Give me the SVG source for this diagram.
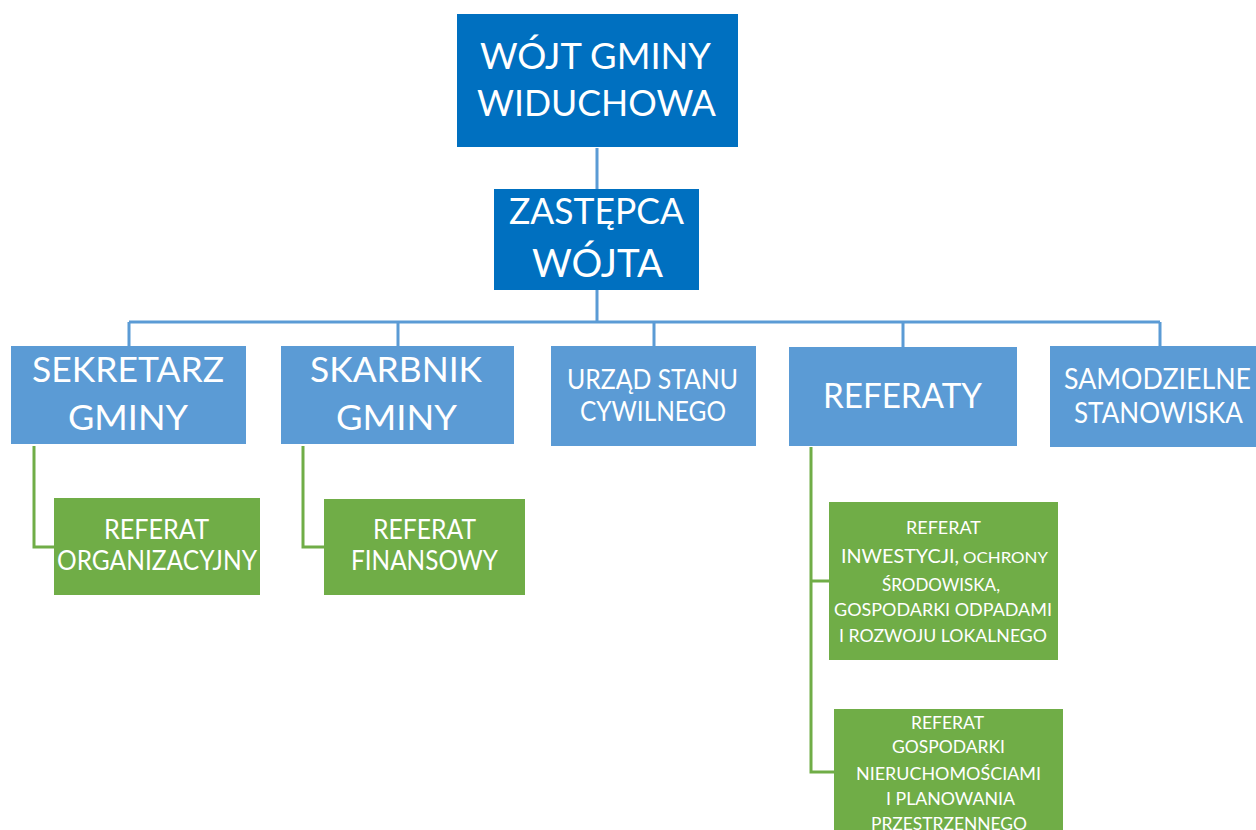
<svg xmlns="http://www.w3.org/2000/svg" width="1256" height="830" viewBox="0 0 1256 830">
<style>
text{font-family:Lato,"Open Sans","Liberation Sans",sans-serif;fill:#fff;text-anchor:middle}
.dk{fill:#0070C0}
.lb{fill:#5B9BD5}
.gr{fill:#70AD47}
.cb{stroke:#5B9BD5;stroke-width:3;fill:none}
.cg{stroke:#70AD47;stroke-width:3;fill:none}
</style>
<rect width="1256" height="830" fill="#fff"/>
<g id="connectors">
<path class="cb" d="M597 148V190M597 290V322M129 322H1160M129 322V346M398 322V346M654 322V346M903 322V347M1160 322V346"/>
<path class="cg" d="M34 446V547H54M303 446V547H324M811 447V772H834M811 581H829"/>
</g>
<g id="wojt">
<rect class="dk" x="457" y="14" width="281" height="133"/>
<text x="595.5" y="69" font-size="36" textLength="231" lengthAdjust="spacingAndGlyphs">WÓJT GMINY</text>
<text x="596.5" y="116" font-size="36" textLength="239" lengthAdjust="spacingAndGlyphs">WIDUCHOWA</text>
</g>
<g id="zastepca">
<rect class="dk" x="494" y="189" width="205" height="101"/>
<text x="596.5" y="224" font-size="36" textLength="175" lengthAdjust="spacingAndGlyphs">ZASTĘPCA</text>
<text x="597.5" y="277" font-size="38" textLength="131" lengthAdjust="spacingAndGlyphs">WÓJTA</text>
</g>
<g id="sekretarz">
<rect class="lb" x="11" y="346" width="235" height="98"/>
<text x="128" y="382" font-size="35" textLength="192" lengthAdjust="spacingAndGlyphs">SEKRETARZ</text>
<text x="128" y="430" font-size="35" textLength="120" lengthAdjust="spacingAndGlyphs">GMINY</text>
</g>
<g id="skarbnik">
<rect class="lb" x="281" y="346" width="233" height="98"/>
<text x="396" y="382" font-size="35" textLength="172" lengthAdjust="spacingAndGlyphs">SKARBNIK</text>
<text x="396.5" y="430" font-size="35" textLength="121" lengthAdjust="spacingAndGlyphs">GMINY</text>
</g>
<g id="usc">
<rect class="lb" x="551" y="346" width="205" height="100"/>
<text x="652.5" y="389" font-size="26" textLength="171" lengthAdjust="spacingAndGlyphs">URZĄD STANU</text>
<text x="653" y="421" font-size="26" textLength="146" lengthAdjust="spacingAndGlyphs">CYWILNEGO</text>
</g>
<g id="referaty">
<rect class="lb" x="789" y="347" width="228" height="99"/>
<text x="902.5" y="408" font-size="35" textLength="159" lengthAdjust="spacingAndGlyphs">REFERATY</text>
</g>
<g id="samodzielne">
<rect class="lb" x="1050" y="346" width="210" height="101"/>
<text x="1157.5" y="389" font-size="28" textLength="187" lengthAdjust="spacingAndGlyphs">SAMODZIELNE</text>
<text x="1158.5" y="423" font-size="28" textLength="169" lengthAdjust="spacingAndGlyphs">STANOWISKA</text>
</g>
<g id="ref-org">
<rect class="gr" x="54" y="498" width="206" height="97"/>
<text x="156.5" y="539" font-size="26" textLength="105" lengthAdjust="spacingAndGlyphs">REFERAT</text>
<text x="157" y="570" font-size="26" textLength="200" lengthAdjust="spacingAndGlyphs">ORGANIZACYJNY</text>
</g>
<g id="ref-fin">
<rect class="gr" x="324" y="499" width="201" height="96"/>
<text x="424.5" y="539" font-size="26" textLength="103" lengthAdjust="spacingAndGlyphs">REFERAT</text>
<text x="424.5" y="570" font-size="26" textLength="147" lengthAdjust="spacingAndGlyphs">FINANSOWY</text>
</g>
<g id="ref-inw">
<rect class="gr" x="829" y="502" width="229" height="158"/>
<text x="943.5" y="534" font-size="17" textLength="75" lengthAdjust="spacingAndGlyphs">REFERAT</text>
<text y="563" style="text-anchor:start"><tspan x="841" font-size="20" textLength="118" lengthAdjust="spacingAndGlyphs">INWESTYCJI,</tspan><tspan x="963" font-size="15.5" textLength="85" lengthAdjust="spacingAndGlyphs">OCHRONY</tspan></text>
<text x="941" y="591" font-size="17" textLength="118" lengthAdjust="spacingAndGlyphs">ŚRODOWISKA,</text>
<text x="943" y="616" font-size="17" textLength="218" lengthAdjust="spacingAndGlyphs">GOSPODARKI ODPADAMI</text>
<text x="943" y="642" font-size="17" textLength="208" lengthAdjust="spacingAndGlyphs">I ROZWOJU LOKALNEGO</text>
</g>
<g id="ref-gosp">
<rect class="gr" x="834" y="709" width="229" height="130"/>
<text x="947.5" y="729" font-size="17" textLength="73" lengthAdjust="spacingAndGlyphs">REFERAT</text>
<text x="948.5" y="753" font-size="17" textLength="113" lengthAdjust="spacingAndGlyphs">GOSPODARKI</text>
<text x="948.5" y="780" font-size="17" textLength="185" lengthAdjust="spacingAndGlyphs">NIERUCHOMOŚCIAMI</text>
<text x="950.5" y="805" font-size="17" textLength="129" lengthAdjust="spacingAndGlyphs">I PLANOWANIA</text>
<text x="949" y="830" font-size="17" textLength="156" lengthAdjust="spacingAndGlyphs">PRZESTRZENNEGO</text>
</g>
</svg>
